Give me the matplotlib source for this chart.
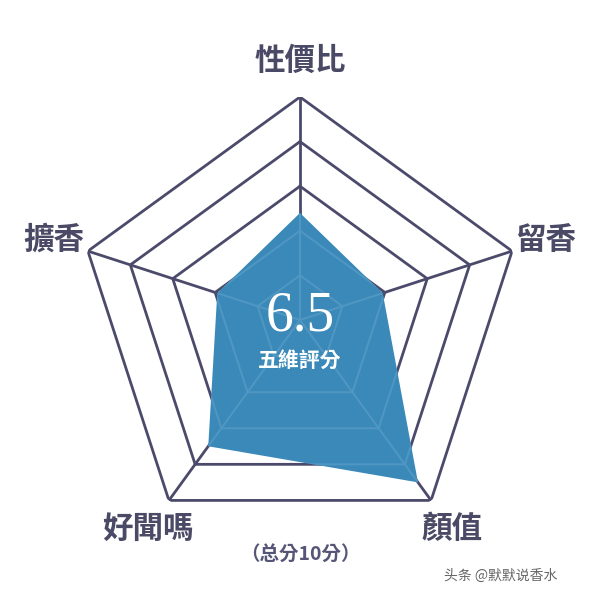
import numpy as np
import matplotlib
matplotlib.use('Agg')
import matplotlib.pyplot as plt

plt.rcParams['font.family'] = ['Noto Sans CJK TC', 'DejaVu Sans']

# 五维数据 (满分10分)
labels = ['性價比', '留香', '顏值', '好聞嗎', '擴香']
scores = [4.8, 3.9, 9.0, 7.0, 3.9]
levels = [2, 4, 6, 8, 10]
total_score = '6.5'
max_score = 10

grid_color = '#4b4a6b'
text_color = '#4a4a66'
fill_color = '#3a89b9'

n = len(labels)
angles = np.linspace(0, 2 * np.pi, n, endpoint=False)
closed = np.append(angles, angles[0])

fig = plt.figure(figsize=(6, 6), dpi=100)
ax = fig.add_axes([77 / 600, 57 / 600, 446 / 600, 446 / 600], projection='polar')
ax.set_theta_offset(np.pi / 2)
ax.set_theta_direction(-1)
ax.set_ylim(0, max_score)
ax.axis('off')

# 网格
for lv in levels:
    ax.plot(closed, [lv] * (n + 1), color=grid_color, lw=2, zorder=1)
for a in angles:
    ax.plot([a, a], [0, max_score], color=grid_color, lw=2, zorder=1)

# 数据区域
vals = scores + scores[:1]
ax.fill(closed, vals, color=fill_color, lw=0, zorder=2)
# 填充区内的淡网格
for lv in levels:
    ax.plot(closed, [lv] * (n + 1), color='#4f96c2', lw=1.5, zorder=2.5)
for a in angles:
    ax.plot([a, a], [0, max_score], color='#4f96c2', lw=1.5, zorder=2.5)
ax.fill(closed, [max_score] * (n + 1), color='none', lw=0, zorder=2.5)
# 把淡网格裁剪到数据区域内
clip = ax.fill(closed, vals, color='none', lw=0, zorder=0)[0]
for line in ax.lines[-(len(levels) + n):]:
    line.set_clip_path(clip)

# 维度标签
for a, lab in zip(angles, labels):
    ax.text(a, max_score * 1.16, lab, ha='center', va='center',
            fontsize=22, color=text_color, fontweight='bold')

ax.text(0, 0.15, total_score, ha='center', va='center', fontsize=40,
        color='white', family=['Liberation Serif', 'DejaVu Serif'], zorder=3)
fig.text(0.5, 1 - 360 / 600, '五維評分', ha='center', va='center',
         fontsize=15, color='white', fontweight='bold', zorder=3)

fig.text(0.5, 1 - 555 / 600, '（总分10分）', ha='center', va='center',
         fontsize=14, color='#555577', fontweight='bold')
fig.text(0.835, 1 - 576 / 600, '头条 @默默说香水', ha='center', va='center',
         fontsize=10, color='#666666', family=['Noto Sans CJK SC', 'DejaVu Sans'])

fig.savefig('out.png', dpi=100, facecolor='white')
